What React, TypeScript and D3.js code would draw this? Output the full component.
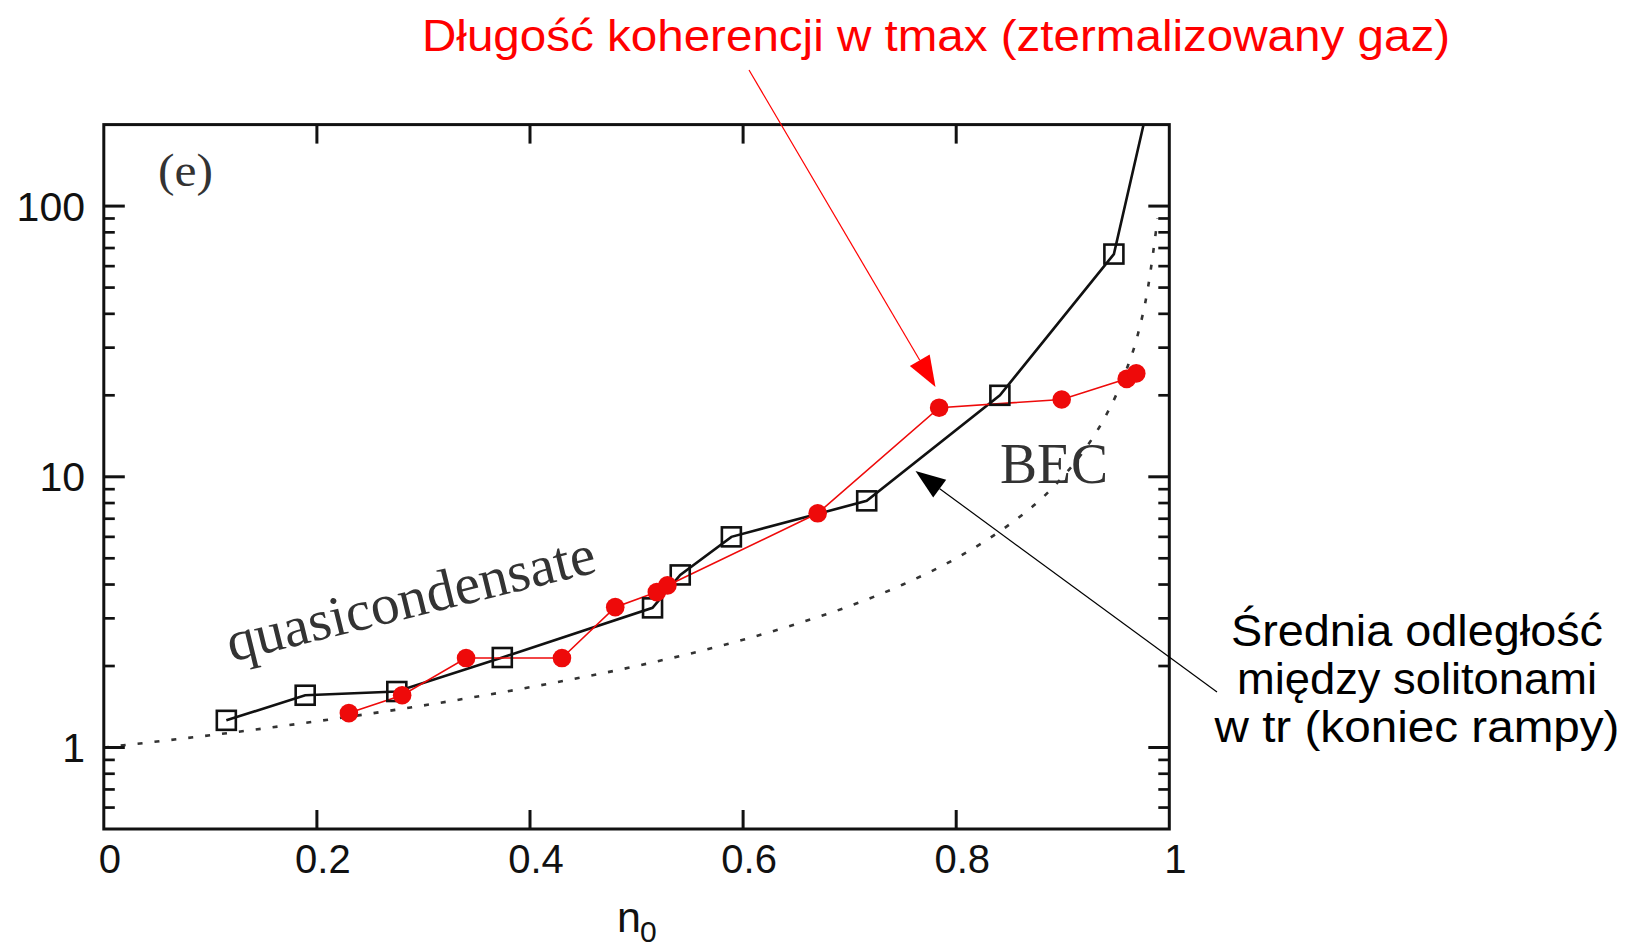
import React from 'react';
import * as d3 from 'd3';

// ---- data ----
const squareX = [0.115, 0.189, 0.275, 0.374, 0.515, 0.541, 0.589, 0.716, 0.841, 0.948, 0.99];
const squareY = [1.26, 1.56, 1.61, 2.15, 3.28, 4.34, 6.0, 8.15, 20.0, 66.5, 350];
const circleX = [0.230, 0.280, 0.340, 0.430, 0.480, 0.519, 0.529, 0.670, 0.784, 0.899, 0.960, 0.969];
const circleY = [1.34, 1.56, 2.14, 2.14, 3.3, 3.75, 3.97, 7.33, 18.0, 19.3, 23.0, 24.1];
const dottedX = [0, 0.1, 0.2, 0.3, 0.4, 0.5, 0.6, 0.65, 0.7, 0.75, 0.8, 0.85, 0.88, 0.9, 0.92, 0.94, 0.95, 0.96, 0.97, 0.98, 0.989];
const dottedY = [1.0, 1.11, 1.25, 1.43, 1.67, 2.0, 2.5, 2.86, 3.33, 4.0, 5.0, 6.67, 8.3, 10, 12.5, 16.7, 20, 25, 33, 50, 90];
const xTickValues = [0, 0.2, 0.4, 0.6, 0.8, 1];
const xTickLabels = ['0', '0.2', '0.4', '0.6', '0.8', '1'];
const yTickValues = [1, 10, 100];
const yTickLabels = ['1', '10', '100'];
const yMinorValues = [0.6, 0.7, 0.8, 0.9, 2, 3, 4, 5, 6, 7, 8, 9, 20, 30, 40, 50, 60, 70, 80, 90];

const titleRed = 'Długość koherencji w tmax (ztermalizowany gaz)';
const noteLines = ['Średnia odległość', 'między solitonami', 'w tr (koniec rampy)'];

const W = 1628;
const H = 949;
const L = 103.8, R = 1169.3, T = 124.6, B = 829;
const SANS = '"Liberation Sans", Arial, Helvetica, sans-serif';
const SERIF = '"Liberation Serif", "Times New Roman", serif';
const RED = '#ee0a0a';
const INK = '#111';

function arrowHead(tx: number, ty: number, fx: number, fy: number, len: number, wid: number) {
  const dx = tx - fx, dy = ty - fy;
  const d = Math.hypot(dx, dy);
  const ux = dx / d, uy = dy / d;
  const bx = tx - ux * len, by = ty - uy * len;
  const px = -uy * wid / 2, py = ux * wid / 2;
  return {
    pts: `${tx},${ty} ${bx + px},${by + py} ${bx - px},${by - py}`,
    bx, by,
  };
}

export default function App() {
  const x = d3.scaleLinear().domain([0, 1]).range([L, R]);
  const y = d3.scaleLog().domain([0.5, 200]).range([B, T]);

  const sq = squareX.map((v, i) => [v, squareY[i]] as [number, number]);
  const ci = circleX.map((v, i) => [v, circleY[i]] as [number, number]);
  const dt = dottedX.map((v, i) => [v, dottedY[i]] as [number, number]);

  const line = d3.line<[number, number]>().x(d => x(d[0])).y(d => y(d[1]));
  const smooth = d3.line<[number, number]>().x(d => x(d[0])).y(d => y(d[1])).curve(d3.curveMonotoneX);

  const redStart = { x: 749, y: 70 };
  const redTip = { x: 935.5, y: 387 };
  const redHead = arrowHead(redTip.x, redTip.y, redStart.x, redStart.y, 31, 23);
  const blkStart = { x: 1217, y: 692 };
  const blkTip = { x: 915.5, y: 471 };
  const blkHead = arrowHead(blkTip.x, blkTip.y, blkStart.x, blkStart.y, 30, 22);

  const noteLens = [372, 360, 405];

  return (
    <svg width={W} height={H} style={{ position: 'absolute', left: 0, top: 0, background: '#fff' }}>
      <defs>
        <clipPath id="plotclip">
          <rect x={L} y={T} width={R - L} height={B - T} />
        </clipPath>
      </defs>
      <rect x={0} y={0} width={W} height={H} fill="#fff" />

      {/* dotted curve */}
      <path d={smooth(dt) || ''} fill="none" stroke="#333" strokeWidth={2.6} strokeDasharray="5 12" clipPath="url(#plotclip)" />

      {/* black series line */}
      <path d={line(sq) || ''} fill="none" stroke={INK} strokeWidth={2.6} clipPath="url(#plotclip)" />
      {/* red series line */}
      <path d={line(ci) || ''} fill="none" stroke={RED} strokeWidth={1.6} clipPath="url(#plotclip)" />

      {/* squares */}
      {sq.filter(d => d[1] <= 200).map((d, i) => (
        <rect key={'s' + i} x={x(d[0]) - 9.5} y={y(d[1]) - 9.5} width={19} height={19} fill="none" stroke={INK} strokeWidth={2.6} />
      ))}
      {/* circles */}
      {ci.map((d, i) => (
        <circle key={'c' + i} cx={x(d[0])} cy={y(d[1])} r={9.3} fill={RED} />
      ))}

      {/* frame */}
      <rect x={L} y={T} width={R - L} height={B - T} fill="none" stroke={INK} strokeWidth={3} />

      {/* x ticks top and bottom */}
      {xTickValues.filter(v => v > 0 && v < 1).map((v, i) => (
        <g key={'xt' + i}>
          <line x1={x(v)} x2={x(v)} y1={B} y2={B - 19} stroke={INK} strokeWidth={3} />
          <line x1={x(v)} x2={x(v)} y1={T} y2={T + 19} stroke={INK} strokeWidth={3} />
        </g>
      ))}
      {xTickValues.map((v, i) => (
        <text key={'xl' + i} x={x(v) + 6} y={873} textAnchor="middle" fontFamily={SANS} fontSize={40} fill={INK}>{xTickLabels[i]}</text>
      ))}

      {/* y ticks left and right */}
      {yTickValues.map((v, i) => (
        <g key={'yt' + i}>
          <line x1={L} x2={L + 21} y1={y(v)} y2={y(v)} stroke={INK} strokeWidth={3} />
          <line x1={R} x2={R - 21} y1={y(v)} y2={y(v)} stroke={INK} strokeWidth={3} />
          <text x={85} y={y(v) + 14.5} textAnchor="end" fontFamily={SANS} fontSize={41} fill={INK}>{yTickLabels[i]}</text>
        </g>
      ))}
      {yMinorValues.map((v, i) => (
        <g key={'ym' + i}>
          <line x1={L} x2={L + 11} y1={y(v)} y2={y(v)} stroke={INK} strokeWidth={2.7} />
          <line x1={R} x2={R - 11} y1={y(v)} y2={y(v)} stroke={INK} strokeWidth={2.7} />
        </g>
      ))}

      {/* axis title n0 */}
      <text x={617} y={932} fontFamily={SANS} fontSize={43} fill={INK}>n</text>
      <text x={640} y={942} fontFamily={SANS} fontSize={30} fill={INK}>0</text>

      {/* in-plot labels */}
      <text x={158} y={186} fontFamily={SERIF} fontSize={46} fill="#333" textLength={55} lengthAdjust="spacingAndGlyphs">(e)</text>
      <text x={0} y={0} fontFamily={SERIF} fontSize={57} fill="#333" textLength={378} lengthAdjust="spacingAndGlyphs"
        transform="translate(231.5,661.7) rotate(-13.8)">quasicondensate</text>
      <text x={1000} y={483} fontFamily={SERIF} fontSize={57} fill="#333" textLength={108} lengthAdjust="spacingAndGlyphs">BEC</text>

      {/* red annotation */}
      <text x={422} y={51} fontFamily={SANS} fontSize={44} fill="#ff0000" textLength={1028} lengthAdjust="spacingAndGlyphs">{titleRed}</text>
      <line x1={redStart.x} y1={redStart.y} x2={redHead.bx} y2={redHead.by} stroke="#ff0000" strokeWidth={1.2} />
      <polygon points={redHead.pts} fill="#ff0000" />

      {/* black annotation */}
      {noteLines.map((t, i) => (
        <text key={'n' + i} x={1417} y={646 + i * 48} textAnchor="middle" fontFamily={SANS} fontSize={45} fill="#000"
          textLength={noteLens[i]} lengthAdjust="spacingAndGlyphs">{t}</text>
      ))}
      <line x1={blkStart.x} y1={blkStart.y} x2={blkHead.bx} y2={blkHead.by} stroke="#000" strokeWidth={1.2} />
      <polygon points={blkHead.pts} fill="#000" />
    </svg>
  );
}
